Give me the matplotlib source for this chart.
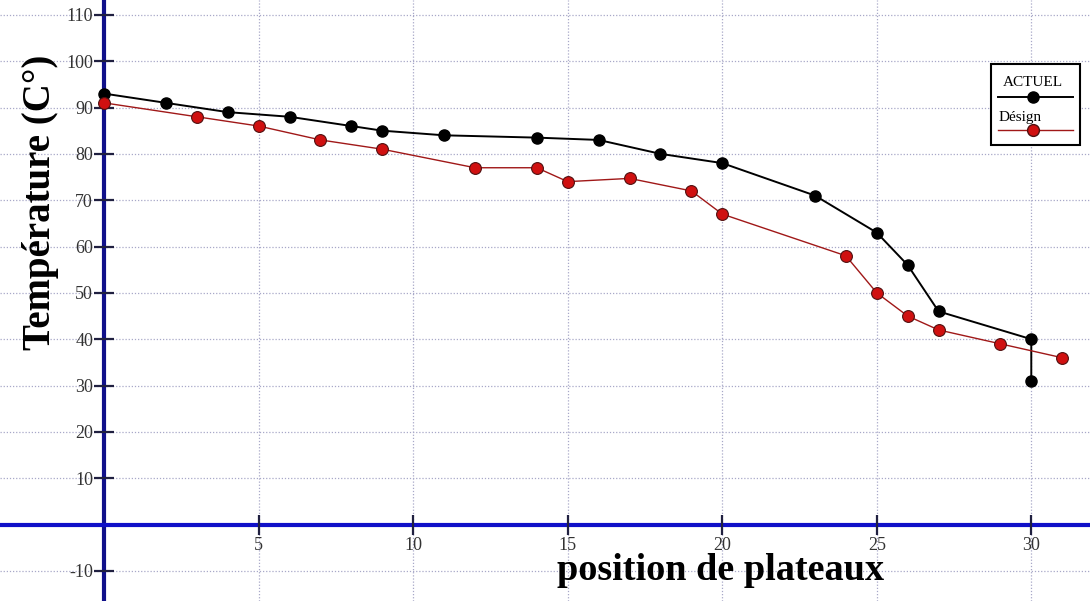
import matplotlib
matplotlib.use("Agg")
import matplotlib.pyplot as plt
from matplotlib.lines import Line2D
from matplotlib.patches import Rectangle

# données
plateaux_actuel = [0, 2, 4, 6, 8, 9, 11, 14, 16, 18, 20, 23, 25, 26, 27, 30, 30]
temp_actuel = [93, 91, 89, 88, 86, 85, 84, 83.5, 83, 80, 78, 71, 63, 56, 46, 40, 31]

plateaux_design = [0, 3, 5, 7, 9, 12, 14, 15, 17, 19, 20, 24, 25, 26, 27, 29, 31]
temp_design = [91, 88, 86, 83, 81, 77, 77, 74, 74.7, 72, 67, 58, 50, 45, 42, 39, 36]

x_ticks = [5, 10, 15, 20, 25, 30]
y_ticks = [-10, 10, 20, 30, 40, 50, 60, 70, 80, 90, 100, 110]

plt.rcParams['font.family'] = ['Liberation Serif', 'DejaVu Serif']
plt.rcParams['axes.unicode_minus'] = False

fig = plt.figure(figsize=(10.9, 6.01), dpi=100)
ax = fig.add_axes([0, 0, 1, 1])
ax.set_xlim(-3.37, 31.9)
ax.set_ylim(-16.5, 113.2)

# grille pointillée
for gx in [0] + x_ticks:
    ax.axvline(gx, color='#a8a8c8', lw=0.9, ls=(0, (1, 1.5)), zorder=0)
for gy in [0] + y_ticks + [-20]:
    ax.axhline(gy, color='#a8a8c8', lw=0.9, ls=(0, (1, 1.5)), zorder=0)

# axes passant par l'origine
ax.spines['top'].set_visible(False)
ax.spines['right'].set_visible(False)
ax.spines['left'].set_position(('data', 0))
ax.spines['bottom'].set_position(('data', 0))
ax.spines['left'].set_color('#10108a')
ax.spines['bottom'].set_color('#1010c8')
ax.spines['left'].set_linewidth(3)
ax.spines['bottom'].set_linewidth(3)
ax.spines['left'].set_zorder(1)
ax.spines['bottom'].set_zorder(1)

ax.set_xticks(x_ticks)
ax.set_yticks(y_ticks)
ax.tick_params(axis='both', direction='inout', length=14, width=1.6,
               color='#202040', labelsize=13, labelcolor='#333333')
ax.tick_params(axis='x', pad=2)
ax.tick_params(axis='y', pad=1)

# courbes
ax.plot(plateaux_actuel, temp_actuel, color='black', lw=1.4, marker='o',
        markersize=8, markerfacecolor='black', markeredgecolor='black', zorder=3)
ax.plot(plateaux_design, temp_design, color='#a01818', lw=1.0, marker='o',
        markersize=8.5, markerfacecolor='#d01010', markeredgecolor='#501010',
        markeredgewidth=0.8, zorder=4)

# titres des axes
ax.text(0.037, 0.664, 'Température (C°)', transform=ax.transAxes, rotation=90,
        ha='center', va='center', fontsize=28, fontweight='bold')
ax.text(0.661, 0.05, 'position de plateaux', transform=ax.transAxes,
        ha='center', va='center', fontsize=27.5, fontweight='bold')

# légende dessinée à la main (étiquette au-dessus de l'échantillon)
ax.add_patch(Rectangle((0.909, 0.759), 0.082, 0.135, transform=ax.transAxes,
                       facecolor='white', edgecolor='black', lw=1.5, zorder=5))
ax.text(0.948, 0.862, 'ACTUEL', transform=ax.transAxes, ha='center',
        va='center', fontsize=11, zorder=6)
ax.add_line(Line2D([0.916, 0.984], [0.838, 0.838], transform=ax.transAxes,
                   color='black', lw=1.4, zorder=6))
ax.add_line(Line2D([0.948], [0.838], transform=ax.transAxes, marker='o',
                   markersize=8, color='black', zorder=7))
ax.text(0.916, 0.805, 'Désign', transform=ax.transAxes, ha='left',
        va='center', fontsize=11, zorder=6)
ax.add_line(Line2D([0.916, 0.984], [0.783, 0.783], transform=ax.transAxes,
                   color='#a01818', lw=1.0, zorder=6))
ax.add_line(Line2D([0.948], [0.783], transform=ax.transAxes, marker='o',
                   markersize=8.5, markerfacecolor='#d01010',
                   markeredgecolor='#501010', zorder=7))

fig.savefig('out.png', dpi=100, facecolor='white')
